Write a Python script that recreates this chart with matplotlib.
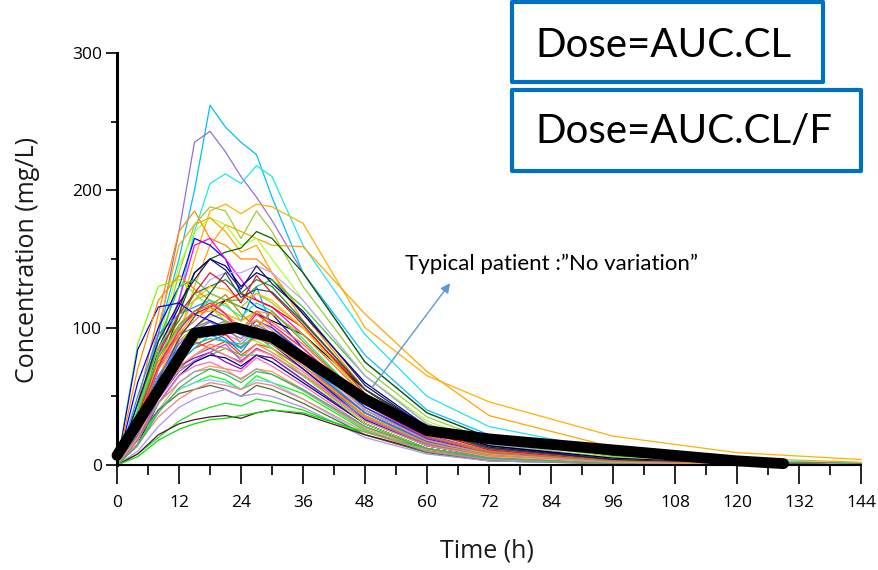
import matplotlib
matplotlib.use("Agg")
import matplotlib.pyplot as plt
from matplotlib.patches import Rectangle
from matplotlib.ticker import MultipleLocator

# ---------------- data ----------------
times = [0, 4, 8, 12, 15, 18, 21, 24, 27, 30, 36, 48, 60, 72, 96, 120, 144]

p01 = [0, 40, 95, 150, 200, 262, 246, 235, 226, 195, 140, 80, 40, 22, 8, 3, 1]
p02 = [0, 30, 95, 170, 235, 243, 228, 210, 195, 178, 140, 75, 38, 20, 7, 2, 1]
p03 = [0, 25, 70, 120, 170, 205, 212, 205, 218, 210, 160, 95, 50, 28, 10, 4, 1]
p04 = [0, 20, 60, 110, 150, 185, 190, 183, 190, 188, 176, 100, 65, 46, 21, 9, 4]
p05 = [0, 15, 50, 95, 130, 160, 175, 170, 165, 160, 159, 110, 68, 36, 13, 5, 2]
p06 = [0, 30, 80, 140, 175, 188, 185, 165, 185, 170, 130, 70, 35, 18, 6, 2, 1]
p07 = [0, 35, 90, 145, 170, 180, 175, 160, 165, 150, 120, 65, 32, 16, 5, 2, 0.5]
p08 = [0, 45, 110, 170, 185, 165, 160, 150, 150, 140, 110, 55, 25, 12, 4, 1, 0.5]
p09 = [0, 40, 100, 160, 175, 180, 170, 155, 160, 140, 105, 55, 26, 13, 4, 1, 0.3]
p10 = [0, 25, 70, 110, 140, 150, 155, 158, 170, 165, 140, 75, 38, 20, 7, 2, 1]
p11 = [0, 60, 100, 130, 165, 160, 150, 125, 115, 110, 85, 45, 20, 10, 3, 1, 0]
p12 = [0, 30, 80, 120, 160, 165, 150, 135, 120, 115, 95, 50, 22, 10, 3, 1, 0]
p13 = [0, 30, 85, 115, 140, 150, 145, 130, 140, 135, 110, 60, 28, 14, 4, 1, 0]
p14 = [0, 40, 90, 130, 135, 125, 120, 120, 130, 135, 115, 65, 30, 15, 5, 1, 0.5]
p15 = [0, 20, 60, 100, 120, 135, 140, 140, 145, 140, 120, 65, 30, 15, 5, 2, 0.5]
p16 = [0, 30, 75, 100, 110, 115, 120, 125, 120, 115, 100, 55, 25, 12, 4, 1, 0]
p17 = [0, 50, 95, 110, 115, 120, 110, 105, 130, 100, 80, 42, 18, 8, 2, 1, 0]
p18 = [0, 20, 55, 90, 100, 110, 120, 115, 110, 105, 95, 55, 28, 14, 5, 1, 0]
p19 = [0, 25, 60, 85, 95, 100, 105, 100, 98, 95, 80, 42, 20, 10, 3, 1, 0]
p20 = [0, 35, 75, 95, 100, 105, 100, 95, 100, 95, 80, 40, 18, 8, 2, 1, 0]
p21 = [0, 25, 65, 90, 100, 108, 110, 105, 110, 100, 85, 45, 20, 9, 3, 1, 0]
p22 = [0, 30, 70, 90, 95, 100, 95, 90, 100, 95, 78, 38, 17, 8, 2, 1, 0]
p23 = [0, 20, 55, 75, 85, 90, 95, 85, 95, 90, 72, 38, 17, 8, 2, 0.5, 0]
p24 = [0, 30, 60, 75, 85, 95, 90, 85, 95, 85, 70, 35, 15, 7, 2, 0.5, 0]
p25 = [0, 25, 60, 80, 90, 85, 90, 80, 88, 85, 70, 36, 16, 7, 2, 0.5, 0]
p26 = [0, 20, 50, 70, 80, 85, 80, 75, 85, 80, 65, 32, 14, 6, 2, 0.5, 0]
p27 = [0, 30, 55, 70, 75, 80, 85, 80, 80, 78, 62, 30, 12, 5, 1, 0, 0]
p28 = [0, 15, 45, 65, 75, 80, 78, 72, 80, 75, 60, 30, 12, 5, 1, 0, 0]
p29 = [0, 20, 45, 65, 72, 75, 70, 68, 78, 72, 58, 28, 11, 5, 1, 0, 0]
p30 = [0, 15, 40, 60, 68, 72, 70, 62, 70, 68, 55, 27, 11, 4, 1, 0, 0]
p31 = [0, 15, 40, 55, 60, 65, 62, 55, 65, 60, 52, 25, 10, 4, 1, 0, 0]
p32 = [0, 20, 40, 55, 60, 62, 60, 55, 62, 60, 48, 22, 9, 3, 1, 0, 0]
p33 = [0, 20, 40, 52, 55, 58, 55, 50, 58, 55, 45, 22, 9, 3, 1, 0, 0]
p34 = [0, 10, 28, 42, 48, 52, 55, 50, 52, 50, 42, 20, 8, 3, 1, 0, 0]
p35 = [0, 8, 20, 32, 38, 42, 45, 43, 48, 46, 40, 22, 10, 4, 1, 0, 0]
p36 = [0, 8, 22, 30, 33, 35, 36, 34, 38, 40, 37, 22, 10, 4, 1, 0, 0]
p37 = [0, 6, 18, 26, 30, 33, 34, 36, 38, 40, 38, 24, 12, 5, 1, 0, 0]
p38 = [0, 35, 70, 95, 110, 112, 118, 105, 112, 110, 95, 50, 24, 11, 3, 1, 0]
p39 = [0, 25, 65, 85, 100, 110, 105, 95, 105, 100, 82, 42, 19, 9, 3, 1, 0]
p40 = [0, 25, 60, 80, 88, 92, 90, 86, 95, 90, 75, 38, 16, 7, 2, 0.5, 0]
p41 = [0, 45, 85, 105, 125, 130, 135, 125, 135, 130, 105, 55, 26, 12, 4, 1, 0]
p42 = [0, 40, 85, 110, 120, 125, 120, 115, 125, 118, 100, 50, 23, 11, 3, 1, 0]
p43 = [0, 30, 75, 100, 120, 130, 128, 120, 125, 120, 100, 52, 24, 11, 3, 1, 0]
p44 = [0, 20, 50, 70, 80, 88, 85, 78, 88, 82, 68, 33, 14, 6, 2, 0.5, 0]
p45 = [0, 25, 55, 72, 78, 82, 75, 70, 80, 78, 62, 30, 12, 5, 1, 0, 0]
p46 = [0, 30, 65, 85, 92, 95, 90, 88, 98, 92, 76, 38, 16, 7, 2, 0.5, 0]
p47 = [0, 88, 130, 135, 125, 115, 105, 95, 90, 85, 65, 30, 12, 5, 1, 0, 0]
p48 = [0, 84, 115, 118, 110, 105, 100, 95, 92, 88, 70, 33, 14, 6, 2, 0.5, 0]
p49 = [0, 70, 120, 138, 128, 120, 110, 100, 105, 95, 75, 35, 15, 6, 2, 0.5, 0]
p50 = [0, 15, 35, 48, 55, 60, 58, 55, 60, 58, 48, 24, 10, 4, 1, 0, 0]
p51 = [0, 18, 45, 60, 68, 70, 68, 63, 70, 66, 54, 26, 10, 4, 1, 0, 0]
p52 = [0, 30, 70, 95, 105, 115, 108, 98, 112, 104, 88, 46, 21, 10, 3, 1, 0]
p53 = [0, 22, 58, 82, 92, 98, 92, 82, 96, 90, 74, 38, 17, 8, 2, 0.5, 0]
p54 = [0, 35, 80, 110, 125, 140, 132, 118, 138, 125, 102, 52, 24, 11, 3, 1, 0]
p55 = [0, 28, 62, 80, 90, 96, 104, 88, 92, 88, 72, 36, 16, 7, 2, 0.5, 0]
p56 = [0, 40, 80, 100, 112, 120, 116, 108, 118, 112, 92, 46, 21, 9, 3, 1, 0]
p57 = [0, 18, 48, 68, 76, 82, 88, 76, 84, 80, 66, 34, 15, 6, 2, 0.5, 0]
p58 = [0, 25, 62, 92, 108, 125, 140, 122, 128, 126, 104, 55, 26, 12, 4, 1, 0]
p59 = [0, 32, 72, 98, 112, 118, 110, 96, 110, 102, 85, 44, 20, 9, 3, 1, 0]
p60 = [0, 20, 52, 72, 80, 86, 80, 74, 84, 80, 66, 32, 14, 6, 2, 0.5, 0]
p61 = [0, 45, 90, 118, 135, 150, 142, 128, 145, 132, 112, 58, 27, 13, 4, 1, 0]
p62 = [0, 26, 64, 88, 98, 104, 98, 92, 102, 96, 80, 40, 18, 8, 2, 0.5, 0]
p63 = [0, 14, 38, 56, 64, 70, 66, 60, 68, 66, 55, 28, 12, 5, 1, 0, 0]
p64 = [0, 38, 78, 102, 112, 116, 124, 110, 100, 112, 90, 46, 21, 9, 3, 1, 0]
p65 = [0, 24, 58, 82, 96, 100, 96, 100, 106, 98, 80, 40, 18, 8, 2, 0.5, 0]

patients = [p01, p02, p03, p04, p05, p06, p07, p08, p09, p10, p11, p12, p13,
            p14, p15, p16, p17, p18, p19, p20, p21, p22, p23, p24, p25, p26,
            p27, p28, p29, p30, p31, p32, p33, p34, p35, p36, p37, p38, p39,
            p40, p41, p42, p43, p44, p45, p46, p47, p48, p49, p50, p51, p52,
            p53, p54, p55, p56, p57, p58, p59, p60, p61, p62, p63, p64, p65]

typical_t = [0, 15, 23, 30, 48, 60, 72, 96, 120, 129]
typical_c = [7, 96, 100, 93, 48, 25, 19, 11, 3, 1]

x_ticks = [0, 12, 24, 36, 48, 60, 72, 84, 96, 108, 120, 132, 144]
y_ticks = [0, 100, 200, 300]

# ---------------- style ----------------
colors = ["#00BFFF", "#9370DB", "#1EE6F0", "#FFB000", "#FFA500", "#9ACD32",
          "#ADFF2F", "#FF8C00", "#FFA500", "#006400", "#0000FF", "#FF00FF",
          "#000080", "#32CD32", "#C8A0FF", "#FF0000", "#1E90FF", "#000000",
          "#808080", "#6B8E23", "#FFD700", "#EE82EE", "#FF2020", "#00CED1",
          "#FF4500", "#8A2BE2", "#32CD32", "#00008B", "#FF69B4", "#FFA040",
          "#00FF00", "#87CEFA", "#556B2F", "#B090F0", "#22DD22", "#5A1030",
          "#00E000", "#FFA500", "#3030FF", "#20B2AA", "#228B22", "#9ACD32",
          "#FFC000", "#FA8072", "#9400D3", "#00BFFF", "#7CFC00", "#0000FF",
          "#FF8C00", "#F08080", "#A0A0A0", "#FF6347", "#4169E1", "#DC143C",
          "#DAA520", "#00FA9A", "#BA55D3", "#2F4F4F", "#FF1493", "#F4A460",
          "#191970", "#7B68EE", "#3CB371", "#B8860B", "#E9967A"]

W, H = 879, 570
fig = plt.figure(figsize=(W / 100, H / 100), dpi=100)
ax = fig.add_axes([117 / W, 1 - 465 / H, (861 - 117) / W, (465 - 53) / H])

for vals, col in zip(patients, colors):
    ax.plot(times, vals, color=col, lw=0.9, zorder=2, clip_on=False)

ax.plot(typical_t, typical_c, color="black", lw=7.8, solid_capstyle="round",
        solid_joinstyle="round", zorder=5, clip_on=False)

ax.set_xlim(0, 144)
ax.set_ylim(0, 300)
ax.set_xticks(x_ticks)
ax.xaxis.set_minor_locator(MultipleLocator(6))
ax.set_yticks(y_ticks)
ax.yaxis.set_minor_locator(MultipleLocator(50))

for s in ["top", "right"]:
    ax.spines[s].set_visible(False)
ax.spines["left"].set_linewidth(2.2)
ax.spines["bottom"].set_linewidth(1.5)

ax.tick_params(axis="x", which="major", length=13.5, width=1.2, pad=8, labelsize=12.5)
ax.tick_params(axis="x", which="minor", length=7, width=1.2)
ax.tick_params(axis="y", which="major", length=8, width=1.2, pad=3, labelsize=12.5)
ax.tick_params(axis="y", which="minor", length=4.5, width=1.2)
for lab in ax.get_xticklabels() + ax.get_yticklabels():
    lab.set_fontfamily("Open Sans")

fig.text(487 / W, 1 - 558 / H, "Time (h)", ha="center", va="baseline",
         family="Open Sans", fontsize=18, color="#1a1a1a")
fig.text(28 / W, 1 - 260 / H, "Concentration (mg/L)", ha="center", va="center",
         rotation=90, family="Open Sans", fontsize=18, color="#1a1a1a")

# annotation
ax.annotate("", xy=(64.8, 134), xytext=(49, 54.6),
            arrowprops=dict(arrowstyle="-|>", color="#5B9BD5", lw=1,
                            mutation_scale=14), zorder=6)
fig.text(405 / W, 1 - 270 / H, "Typical patient :\u201dNo variation\u201d",
         ha="left", va="baseline", family="Lato", fontsize=16, color="black")

# boxes
blue = "#0070C0"
for (x0, y0, x1, y1) in [(512, 2, 823, 82), (512, 90, 861, 171)]:
    fig.patches.append(Rectangle((x0 / W, 1 - y1 / H), (x1 - x0) / W, (y1 - y0) / H,
                                 transform=fig.transFigure, facecolor="white",
                                 edgecolor=blue, lw=3, joinstyle="round", zorder=10))
fig.text(535 / W, 1 - 57 / H, "Dose=AUC.CL", ha="left", va="baseline",
         family="Lato", fontsize=29, color="black", zorder=11)
fig.text(535 / W, 1 - 143 / H, "Dose=AUC.CL/F", ha="left", va="baseline",
         family="Lato", fontsize=29, color="black", zorder=11)

fig.savefig("out.png", dpi=100)
